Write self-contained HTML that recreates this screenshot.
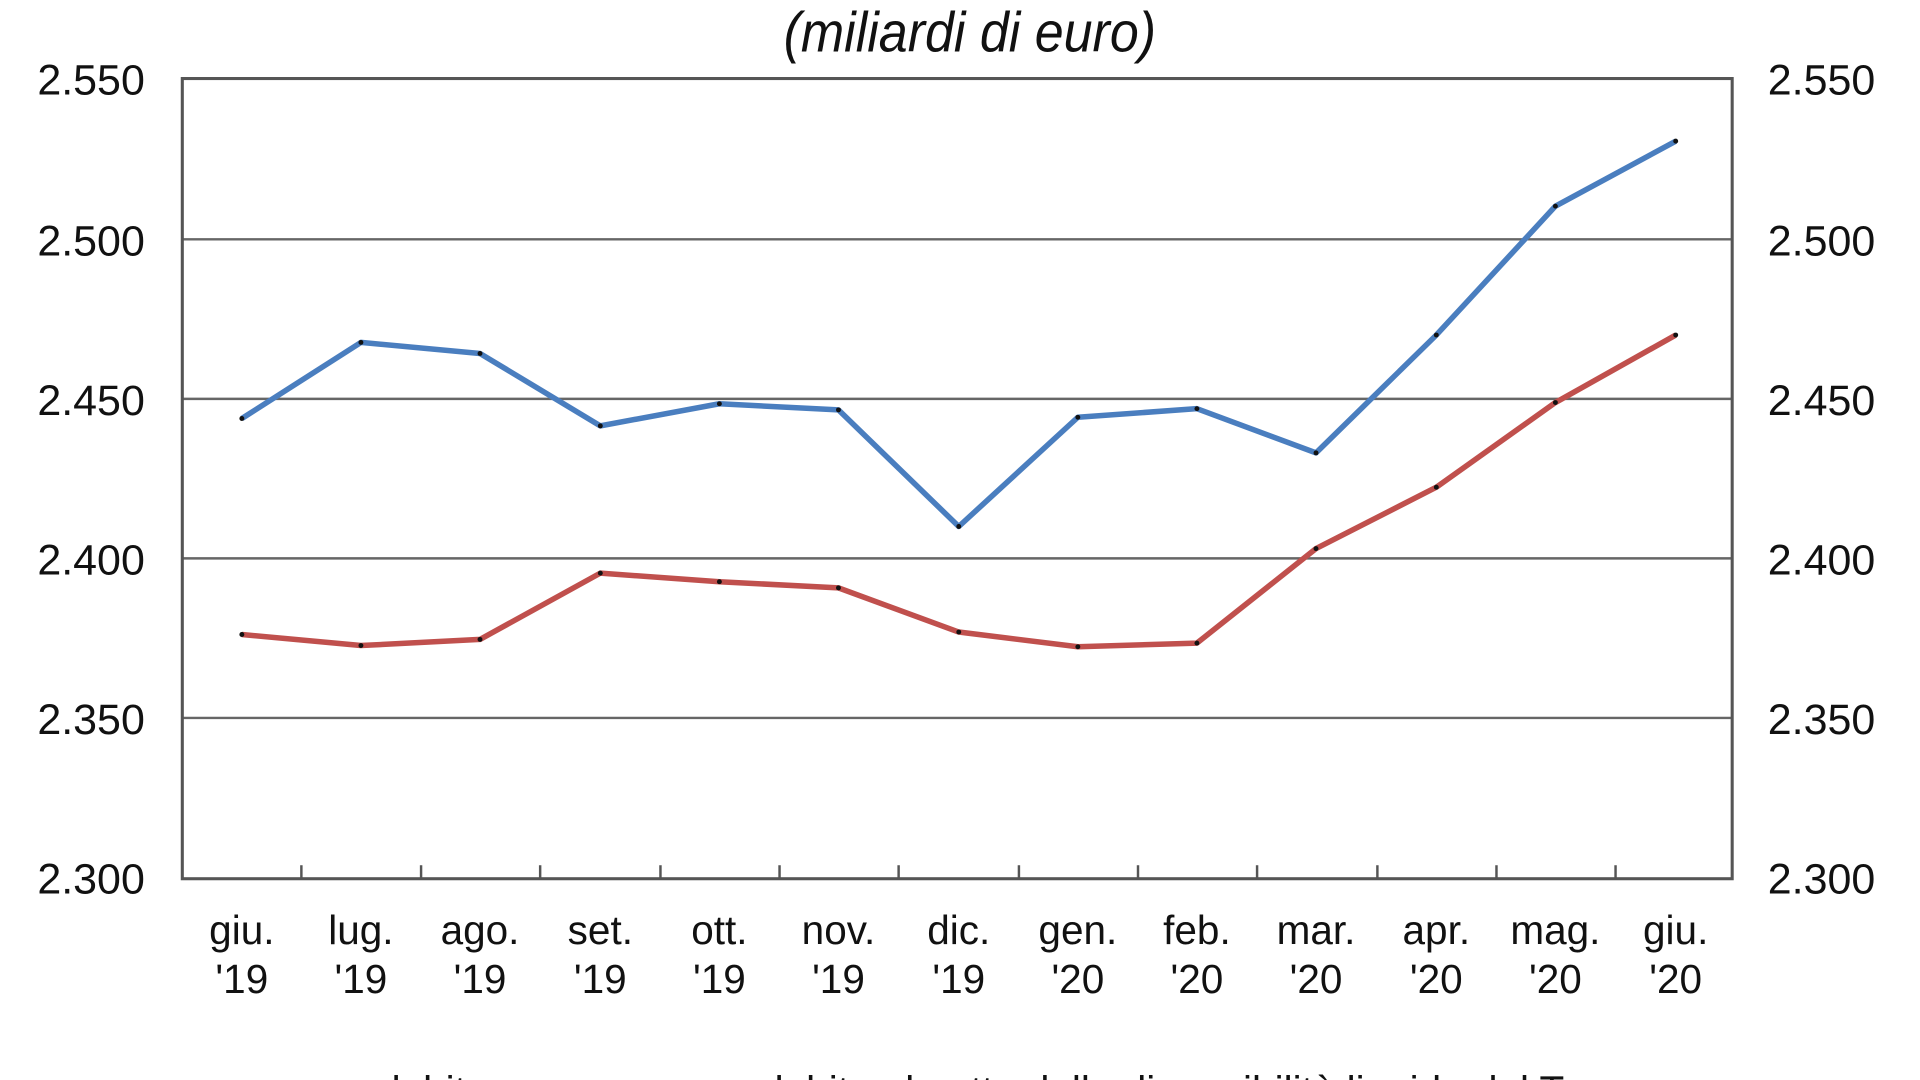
<!DOCTYPE html>
<html><head><meta charset="utf-8"><style>
html,body{margin:0;padding:0;background:#fff;overflow:hidden}
svg{display:block}
text{font-family:"Liberation Sans",Arial,sans-serif;fill:#111}
</style></head><body>
<svg width="1920" height="1080" viewBox="0 0 1564 880" preserveAspectRatio="none">
<text x="790" y="42" font-size="46" font-style="italic" text-anchor="middle" transform="translate(790 0) scale(0.92 1) translate(-790 0)">(miliardi di euro)</text>
<g stroke="#666" stroke-width="2">
<line x1="148" y1="195" x2="1411" y2="195"/>
<line x1="148" y1="325" x2="1411" y2="325"/>
<line x1="148" y1="455" x2="1411" y2="455"/>
<line x1="148" y1="585" x2="1411" y2="585"/>
</g>
<rect x="148.5" y="64" width="1262.5" height="652" fill="none" stroke="#555" stroke-width="2.5"/>
<g stroke="#555" stroke-width="2">
<line x1="245.5" y1="705" x2="245.5" y2="716"/><line x1="343" y1="705" x2="343" y2="716"/>
<line x1="440" y1="705" x2="440" y2="716"/><line x1="538" y1="705" x2="538" y2="716"/>
<line x1="635" y1="705" x2="635" y2="716"/><line x1="732" y1="705" x2="732" y2="716"/>
<line x1="830" y1="705" x2="830" y2="716"/><line x1="927" y1="705" x2="927" y2="716"/>
<line x1="1024" y1="705" x2="1024" y2="716"/><line x1="1122" y1="705" x2="1122" y2="716"/>
<line x1="1219" y1="705" x2="1219" y2="716"/><line x1="1316" y1="705" x2="1316" y2="716"/>
</g>
<g font-size="35" text-anchor="end">
<text x="118" y="77">2.550</text><text x="118" y="208">2.500</text><text x="118" y="338">2.450</text>
<text x="118" y="468">2.400</text><text x="118" y="598">2.350</text><text x="118" y="728">2.300</text>
</g>
<g font-size="35" text-anchor="start">
<text x="1440" y="77">2.550</text><text x="1440" y="208">2.500</text><text x="1440" y="338">2.450</text>
<text x="1440" y="468">2.400</text><text x="1440" y="598">2.350</text><text x="1440" y="728">2.300</text>
</g>
<g font-size="33" text-anchor="middle">
<text x="197" y="769">giu.</text><text x="197" y="809">'19</text>
<text x="294" y="769">lug.</text><text x="294" y="809">'19</text>
<text x="391" y="769">ago.</text><text x="391" y="809">'19</text>
<text x="489" y="769">set.</text><text x="489" y="809">'19</text>
<text x="586" y="769">ott.</text><text x="586" y="809">'19</text>
<text x="683" y="769">nov.</text><text x="683" y="809">'19</text>
<text x="781" y="769">dic.</text><text x="781" y="809">'19</text>
<text x="878" y="769">gen.</text><text x="878" y="809">'20</text>
<text x="975" y="769">feb.</text><text x="975" y="809">'20</text>
<text x="1072" y="769">mar.</text><text x="1072" y="809">'20</text>
<text x="1170" y="769">apr.</text><text x="1170" y="809">'20</text>
<text x="1267" y="769">mag.</text><text x="1267" y="809">'20</text>
<text x="1365" y="769">giu.</text><text x="1365" y="809">'20</text>
</g>
<polyline fill="none" stroke="#4a7ebf" stroke-width="4.5" stroke-linejoin="round" points="197,341 294,279 391,288 489,347 586,329 683,334 781,429 878,340 975,333 1072,369 1170,273 1267,168 1365,115"/>
<polyline fill="none" stroke="#c0504d" stroke-width="4.5" stroke-linejoin="round" points="197,517 294,526 391,521 489,467 586,474 683,479 781,515 878,527 975,524 1072,447 1170,397 1267,328 1365,273"/>
<g fill="#111">
<circle cx="197" cy="341" r="2"/><circle cx="294" cy="279" r="2"/><circle cx="391" cy="288" r="2"/><circle cx="489" cy="347" r="2"/><circle cx="586" cy="329" r="2"/><circle cx="683" cy="334" r="2"/><circle cx="781" cy="429" r="2"/><circle cx="878" cy="340" r="2"/><circle cx="975" cy="333" r="2"/><circle cx="1072" cy="369" r="2"/><circle cx="1170" cy="273" r="2"/><circle cx="1267" cy="168" r="2"/><circle cx="1365" cy="115" r="2"/>
<circle cx="197" cy="517" r="2"/><circle cx="294" cy="526" r="2"/><circle cx="391" cy="521" r="2"/><circle cx="489" cy="467" r="2"/><circle cx="586" cy="474" r="2"/><circle cx="683" cy="479" r="2"/><circle cx="781" cy="515" r="2"/><circle cx="878" cy="527" r="2"/><circle cx="975" cy="524" r="2"/><circle cx="1072" cy="447" r="2"/><circle cx="1170" cy="397" r="2"/><circle cx="1267" cy="328" r="2"/><circle cx="1365" cy="273" r="2"/>
</g>
<g font-size="33">
<text x="308" y="900">debito</text>
<text x="620" y="900">debito al netto delle disponibilità liquide del Tesoro</text>
</g>
</svg>
</body></html>
